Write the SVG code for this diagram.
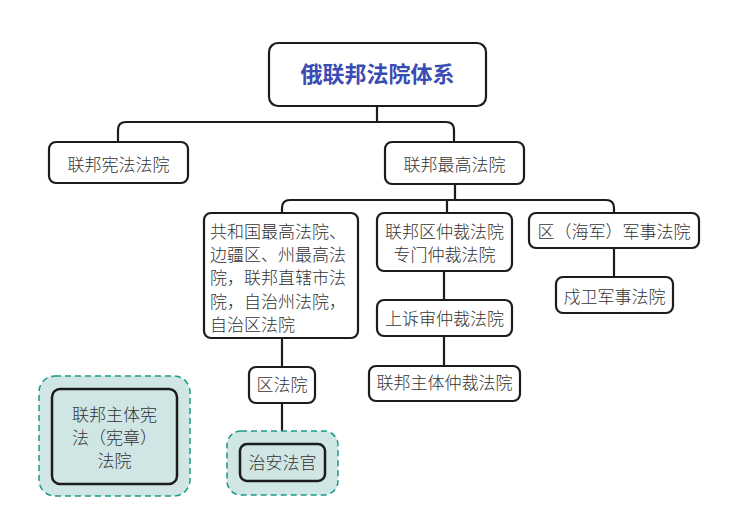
<svg xmlns="http://www.w3.org/2000/svg" width="741" height="527" viewBox="0 0 741 527">
<style>
.box{fill:#ffffff;stroke:#1c1c1c;stroke-width:2.2}
.tealbox{fill:#cfe6e4;stroke:#1c1c1c;stroke-width:2.5}
.group{fill:#cfe6e4;stroke:#1a9a87;stroke-width:1.5;stroke-dasharray:6 4}
.t{font-family:"Noto Sans CJK SC","Liberation Sans",sans-serif;font-size:17px;font-weight:300;fill:#333333;text-anchor:middle}
.tl{font-family:"Noto Sans CJK SC","Liberation Sans",sans-serif;font-size:17px;font-weight:300;fill:#333333}
.title{font-family:"Noto Sans CJK SC","Liberation Sans",sans-serif;font-size:22px;font-weight:bold;fill:#3a4cb3;text-anchor:middle}
.c{fill:none;stroke:#1c1c1c;stroke-width:2.2}
</style>
<rect width="741" height="527" fill="#ffffff"/>
<g id="connectors">
<path class="c" d="M377,106 V122"/>
<path class="c" d="M118,142 V130 Q118,122 126,122 H446 Q454,122 454,130 V142"/>
<path class="c" d="M455,184 V200"/>
<path class="c" d="M282,213 V208 Q282,200 290,200 H606 Q614,200 614,208 V213"/>
<path class="c" d="M447,200 V213"/>
<path class="c" d="M282,338 V368"/>
<path class="c" d="M282,403 V444"/>
<path class="c" d="M444,271 V300"/>
<path class="c" d="M444,336 V366"/>
<path class="c" d="M614,248 V277"/>
</g>
<g id="root">
<rect class="box" x="269" y="43" width="217" height="63" rx="9"/>
<text class="title" x="377.5" y="82">俄联邦法院体系</text>
</g>
<g id="n-constitutional">
<rect class="box" x="49" y="142" width="139" height="41" rx="7"/>
<text class="t" x="118.5" y="171">联邦宪法法院</text>
</g>
<g id="n-supreme">
<rect class="box" x="385" y="142" width="139" height="42" rx="7"/>
<text class="t" x="454.5" y="171">联邦最高法院</text>
</g>
<g id="n-republic">
<rect class="box" x="204" y="213" width="154" height="125" rx="7"/>
<text class="tl" x="210" y="238">共和国最高法院、</text>
<text class="tl" x="210" y="261">边疆区、州最高法</text>
<text class="tl" x="210" y="284">院，联邦直辖市法</text>
<text class="tl" x="210" y="308">院，自治州法院，</text>
<text class="tl" x="210" y="331">自治区法院</text>
</g>
<g id="n-arbitration">
<rect class="box" x="377" y="213" width="135" height="58" rx="7"/>
<text class="t" x="444.5" y="238">联邦区仲裁法院</text>
<text class="t" x="444.5" y="261">专门仲裁法院</text>
</g>
<g id="n-military">
<rect class="box" x="529" y="213" width="170" height="35" rx="7"/>
<text class="t" x="614" y="238">区（海军）军事法院</text>
</g>
<g id="n-garrison">
<rect class="box" x="556" y="277" width="117" height="36" rx="7"/>
<text class="t" x="614.5" y="303">戍卫军事法院</text>
</g>
<g id="n-appeal">
<rect class="box" x="377" y="300" width="135" height="36" rx="7"/>
<text class="t" x="444.5" y="325">上诉审仲裁法院</text>
</g>
<g id="n-subject-arb">
<rect class="box" x="369" y="366" width="151" height="35" rx="7"/>
<text class="t" x="444.5" y="389">联邦主体仲裁法院</text>
</g>
<g id="n-district">
<rect class="box" x="249" y="367" width="66" height="36" rx="7"/>
<text class="t" x="282" y="391">区法院</text>
</g>
<g id="n-subject-const">
<rect class="group" x="39" y="376" width="151" height="120" rx="16"/>
<rect class="tealbox" x="52" y="389" width="125" height="95" rx="8"/>
<text class="t" x="114.5" y="421">联邦主体宪</text>
<text class="t" x="114.5" y="444">法（宪章）</text>
<text class="t" x="114.5" y="467">法院</text>
</g>
<g id="n-magistrate">
<rect class="group" x="227" y="431" width="111" height="64" rx="14"/>
<rect class="tealbox" x="240" y="444" width="85" height="37" rx="7"/>
<text class="t" x="282.5" y="469">治安法官</text>
</g>
</svg>
